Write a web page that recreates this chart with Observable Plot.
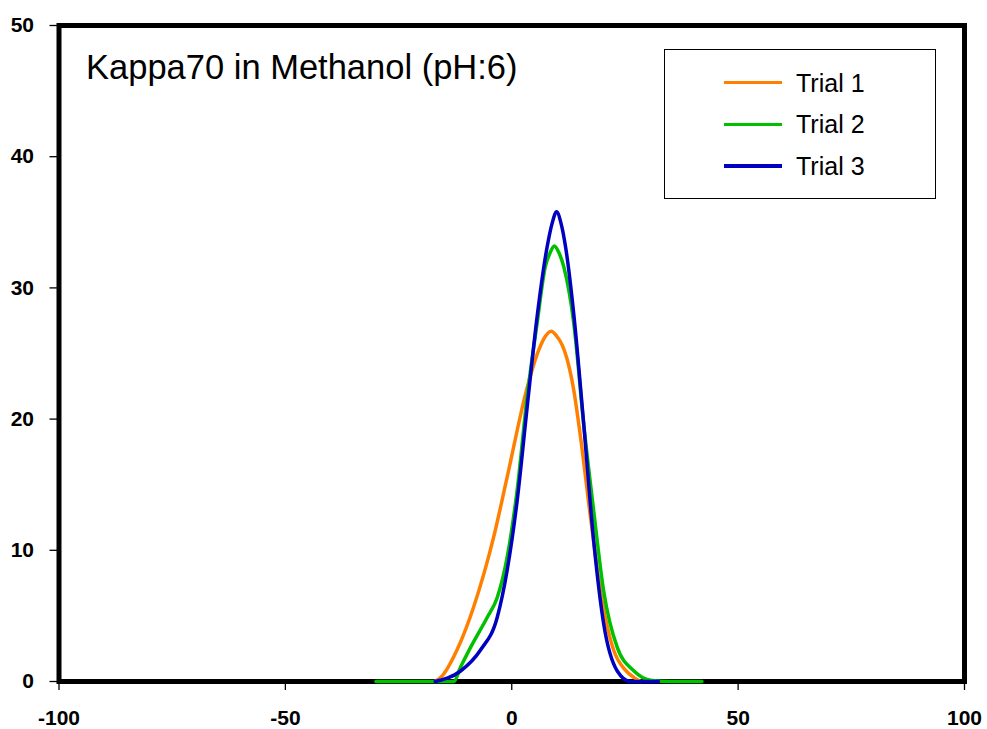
<!DOCTYPE html>
<html>
<head>
<meta charset="utf-8">
<script src="https://cdn.jsdelivr.net/npm/d3@7"></script>
<script src="https://cdn.jsdelivr.net/npm/@observablehq/plot@0.6"></script>
<style>
  html, body { margin: 0; padding: 0; background: #fff; }
  #wrap { position: relative; width: 987px; height: 729px; font-family: "Liberation Sans", Arial, sans-serif; }
  #wrap svg { display: block; }
  g[aria-label$="tick label"] text { font-weight: bold; }
  #legend { position: absolute; left: 664px; top: 49px; width: 272px; height: 150px; box-sizing: border-box; border: 1.5px solid #000; background: #fff; }
  #legend .row { position: absolute; left: 0; height: 0; }
  #legend .sw { position: absolute; left: 59px; width: 58px; height: 3.5px; margin-top: -1.75px; }
  #legend .lb { position: absolute; left: 131px; top: -15px; font-size: 25px; line-height: 30px; white-space: nowrap; color: #000; }
</style>
</head>
<body>
<div id="wrap"><div id="legend"></div></div>
<script>
const title = "Kappa70 in Methanol (pH:6)";
const seriesNames = ["Trial 1", "Trial 2", "Trial 3"];
const seriesColors = ["#FF8000", "#00C000", "#0000C0"];
const xTicks = [-100, -50, 0, 50, 100];
const yTicks = [0, 10, 20, 30, 40, 50];

const trial1X = [-17, -15.7, -12.1, -8.4, -4.0, -1.0, 3.4, 6.0, 7.4, 8.7, 10.0, 11.2, 12.2, 13.7, 15.2, 17.4, 19.6, 22.5, 25, 27, 28.5];
const trial1Y = [0, 0.3, 2.4, 5.7, 11.0, 15.6, 22.4, 25.3, 26.3, 26.7, 26.3, 25.6, 24.6, 22.2, 18.6, 12.5, 6.9, 2.4, 0.9, 0.3, 0];

const trial2X = [-30, -20, -14, -12.8, -11.3, -9.1, -5.4, -3.2, -1.0, 1.2, 3.4, 5.6, 7.4, 8.5, 9.4, 10.4, 11.5, 13.7, 15.9, 18.1, 20.3, 23.3, 27, 30.6, 35, 42];
const trial2Y = [0, 0, 0, 0, 1.1, 2.6, 4.9, 6.4, 9.5, 14.6, 21.7, 27.3, 31.6, 32.7, 33.2, 32.7, 31.6, 27.3, 19.6, 13.0, 6.9, 2.6, 0.8, 0.1, 0, 0];

const trial3X = [-16.9, -11.3, -6.9, -3.2, -1.0, 1.2, 3.4, 5.6, 7.8, 8.9, 9.9, 10.9, 11.9, 13.7, 15.9, 18.1, 20.3, 23.3, 26.2, 32.4];
const trial3Y = [0, 0.8, 2.4, 4.9, 8.5, 13.8, 20.9, 27.8, 33.1, 34.9, 35.8, 34.9, 33.1, 28.0, 19.6, 10.7, 4.4, 0.8, 0, 0];

const seriesX = [trial1X, trial2X, trial3X];
const seriesY = [trial1Y, trial2Y, trial3Y];

const rows = [];
seriesNames.forEach((name, i) => {
  seriesX[i].forEach((x, j) => rows.push({trial: name, x, y: seriesY[i][j]}));
});

const chart = Plot.plot({
  width: 987,
  height: 729,
  marginLeft: 58.5,
  marginRight: 23,
  marginTop: 25,
  marginBottom: 48,
  style: {fontFamily: "'Liberation Sans', Arial, sans-serif", background: "#fff", color: "#000"},
  x: {domain: [-100, 100]},
  y: {domain: [0, 50]},
  color: {domain: seriesNames, range: seriesColors},
  marks: [
    Plot.axisX({ticks: xTicks, tickSize: 9, tickPadding: 20, fontSize: 21, fontWeight: "bold", label: null, tickFormat: d => String(d), stroke: "#000", strokeWidth: 1.3}),
    Plot.axisY({ticks: yTicks, tickSize: 9, tickPadding: 16, fontSize: 21, fontWeight: "bold", label: null, tickFormat: d => String(d), stroke: "#000", strokeWidth: 1.3}),
    Plot.frame({stroke: "#000", strokeWidth: 5}),
    Plot.line(rows, {x: "x", y: "y", z: "trial", stroke: "trial", strokeWidth: 3.5, curve: "monotone-x"}),
    Plot.text([title], {frameAnchor: "top-left", dx: 27, dy: 29, lineAnchor: "top", textAnchor: "start", fontSize: 34.5, fill: "#000"})
  ]
});

const wrap = document.getElementById("wrap");
wrap.insertBefore(chart, wrap.firstChild);

const legend = document.getElementById("legend");
const rowTops = [32.7, 74.3, 116];
seriesNames.forEach((name, i) => {
  const r = document.createElement("div");
  r.className = "row";
  r.style.top = rowTops[i] + "px";
  const sw = document.createElement("div");
  sw.className = "sw";
  sw.style.background = seriesColors[i];
  const lb = document.createElement("div");
  lb.className = "lb";
  lb.textContent = name;
  r.appendChild(sw);
  r.appendChild(lb);
  legend.appendChild(r);
});
</script>
</body>
</html>
